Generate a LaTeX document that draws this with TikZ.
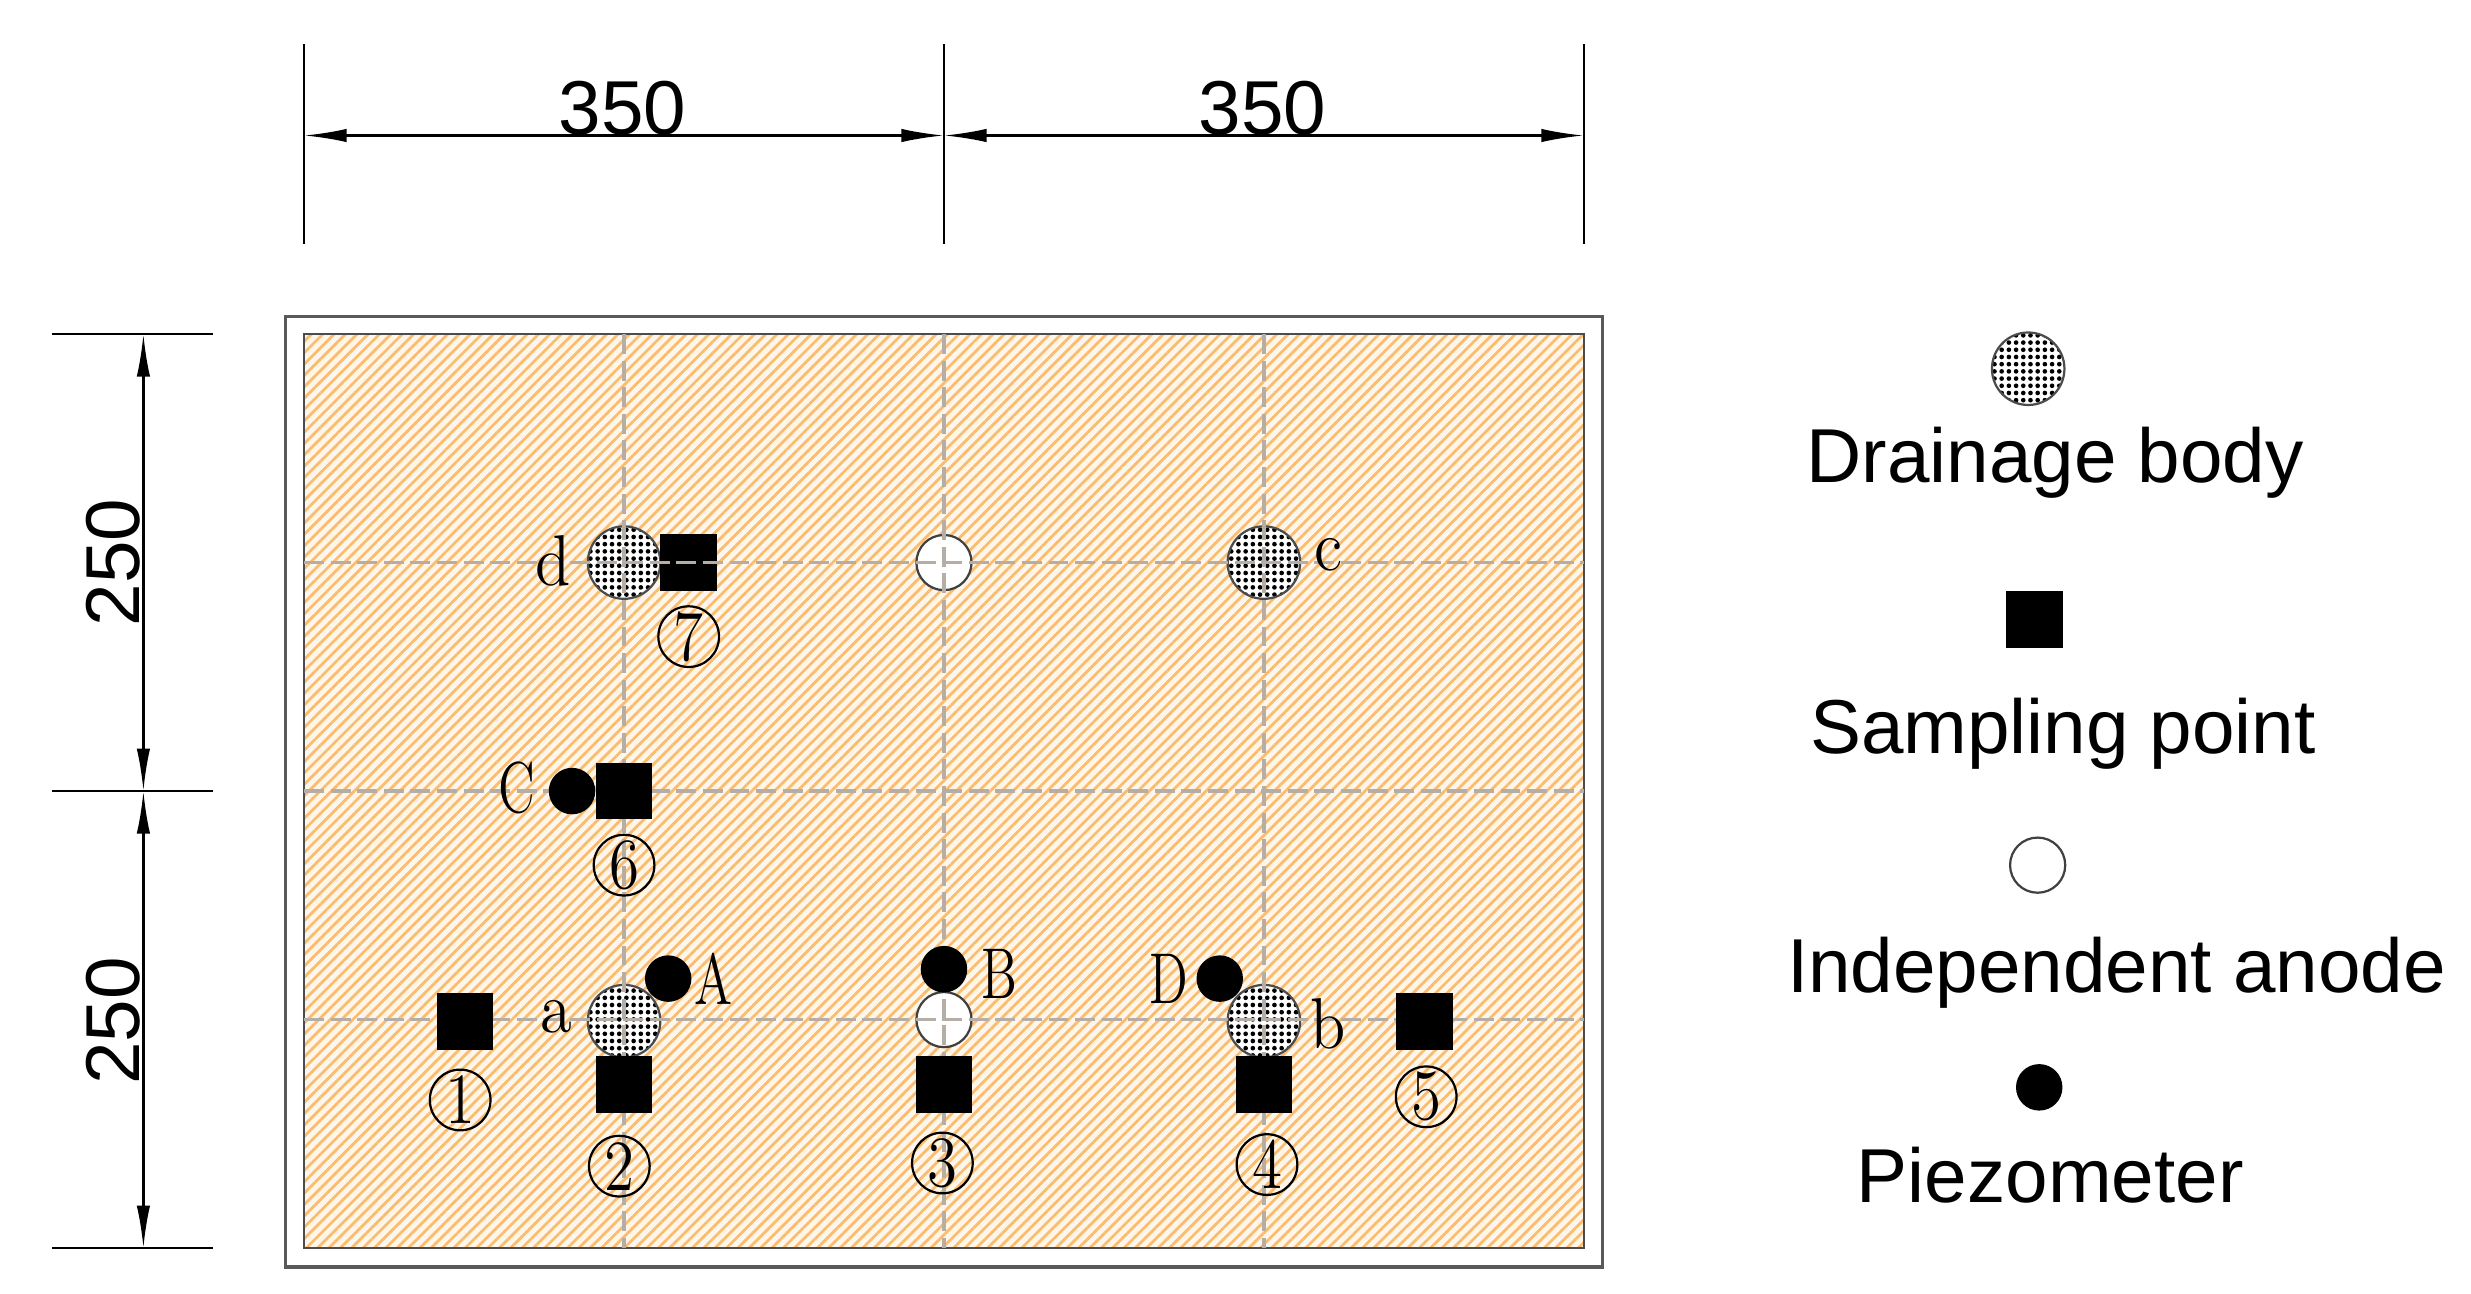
\documentclass[tikz,border=0pt]{standalone}
\usepackage{fontspec}
\setsansfont{Liberation Sans}
\usetikzlibrary{arrows.meta,patterns.meta,shapes.geometric}

\definecolor{soilbase}{HTML}{FFF6EA}
\definecolor{soilline}{HTML}{FBBC70}
\definecolor{gridgray}{HTML}{B4AEA6}
\newcommand{\nrw}[2][.72]{\scalebox{#1}[1]{#2}}

\begin{document}
\begin{tikzpicture}[
  dimline/.style={draw=black,line width=.45pt,{Latex[length=2.7mm,width=.85mm]}-{Latex[length=2.7mm,width=.85mm]}},
  extline/.style={draw=black,line width=.45pt},
  gridline/.style={draw=gridgray,line width=.6pt,dash pattern=on 3.6pt off 1.2pt},
  drain/.style={circle,draw=black!70,line width=.4pt,minimum size=4.6mm,inner sep=0pt,preaction={fill=white},pattern={Dots[distance=1.3pt,radius=.42pt]},pattern color=black},
  sample/.style={rectangle,fill=black,minimum size=3.6mm,inner sep=0pt},
  anode/.style={circle,draw=black!75,line width=.4pt,fill=white,minimum size=3.5mm,inner sep=0pt},
  piezo/.style={circle,fill=black,minimum size=2.95mm,inner sep=0pt},
  letter/.style={font=\fontsize{13}{14}\selectfont,inner sep=0pt},
  number/.style={circle,draw=black,line width=.4pt,minimum size=3.85mm,inner sep=0pt,font=\fontsize{13}{14}\selectfont},
  big/.style={font=\sffamily\fontsize{13.8}{16}\selectfont,inner sep=0pt}
]
\useasboundingbox (0,0) rectangle (15.68,8.205);

% frame and soil
\node (frame) [rectangle,draw=black!65,line width=.6pt,fill=white,minimum width=8.36cm,minimum height=6.03cm,inner sep=0pt] at (5.99,3.18) {};
\fill[soilbase] (1.93,.285) rectangle (10.05,6.085);
\path[pattern={Lines[angle=45,distance=1.45pt,line width=.5pt]},pattern color=soilline] (1.93,.285) rectangle (10.05,6.085);
\draw[black!70,line width=.45pt] (1.93,.285) rectangle (10.05,6.085);

% symbols under the grid
\node (da) [drain] at (3.96,1.725) {};
\node (db) [drain] at (8.02,1.725) {};
\node (dc) [drain] at (8.02,4.635) {};
\node (dd) [drain] at (3.96,4.635) {};
\node (an1) [anode] at (5.99,4.635) {};
\node (an2) [anode] at (5.99,1.735) {};
\node (s7) [sample] at (4.37,4.635) {};

% grid
\coordinate (gl1) at (1.93,4.635);
\coordinate (gr1) at (10.05,4.635);
\coordinate (gl2) at (1.93,3.185);
\coordinate (gr2) at (10.05,3.185);
\coordinate (gl3) at (1.93,1.735);
\coordinate (gr3) at (10.05,1.735);
\coordinate (gt1) at (3.96,6.085);
\coordinate (gb1) at (3.96,.285);
\coordinate (gt2) at (5.99,6.085);
\coordinate (gb2) at (5.99,.285);
\coordinate (gt3) at (8.02,6.085);
\coordinate (gb3) at (8.02,.285);
\path (gl1) edge[gridline] (gr1);
\path (gl2) edge[gridline] (gr2);
\path (gl3) edge[gridline] (gr3);
\path (gt1) edge[gridline] (gb1);
\path (gt2) edge[gridline] (gb2);
\path (gt3) edge[gridline] (gb3);

% symbols over the grid
\node (s1) [sample] at (2.95,1.725) {};
\node (s2) [sample] at (3.96,1.325) {};
\node (s3) [sample] at (5.99,1.325) {};
\node (s4) [sample] at (8.02,1.325) {};
\node (s5) [sample] at (9.04,1.725) {};
\node (s6) [sample] at (3.96,3.185) {};
\node (pa) [piezo] at (4.24,1.995) {};
\node (pb) [piezo] at (5.99,2.055) {};
\node (pc) [piezo] at (3.63,3.185) {};
\node (pd) [piezo] at (7.74,1.995) {};

% letters
\begin{scope}[every node/.style={letter}]
\node (la) at (3.53,1.755) {\nrw[.9]{a}};
\node (lb) at (8.43,1.705) {\nrw[.9]{b}};
\node (lc) at (8.43,4.685) {\nrw[.9]{c}};
\node (ld) at (3.51,4.645) {\nrw[.9]{d}};
\node (lA) at (4.53,1.995) {\nrw{A}};
\node (lB) at (6.34,2.025) {\nrw{B}};
\node (lC) at (3.28,3.205) {\nrw{C}};
\node (lD) at (7.42,1.995) {\nrw{D}};
\end{scope}

% numbers
\begin{scope}[every node/.style={number}]
\node (n1) at (2.92,1.225) {\nrw[.85]{1}};
\node (n2) at (3.93,.805) {\nrw[.85]{2}};
\node (n3) at (5.98,.825) {\nrw[.85]{3}};
\node (n4) at (8.04,.815) {\nrw[.85]{4}};
\node (n5) at (9.05,1.245) {\nrw[.85]{5}};
\node (n6) at (3.96,2.715) {\nrw[.85]{6}};
\node (n7) at (4.37,4.165) {\nrw[.85]{7}};
\end{scope}

% dimensions
\coordinate (t1u) at (1.93,7.925);
\coordinate (t1d) at (1.93,6.655);
\coordinate (t2u) at (5.99,7.925);
\coordinate (t2d) at (5.99,6.655);
\coordinate (t3u) at (10.05,7.925);
\coordinate (t3d) at (10.05,6.655);
\coordinate (t1m) at (1.93,7.345);
\coordinate (t2m) at (5.99,7.345);
\coordinate (t3m) at (10.05,7.345);
\coordinate (l1a) at (.33,6.085);
\coordinate (l1b) at (1.35,6.085);
\coordinate (l2a) at (.33,3.185);
\coordinate (l2b) at (1.35,3.185);
\coordinate (l3a) at (.33,.285);
\coordinate (l3b) at (1.35,.285);
\coordinate (l1m) at (.91,6.085);
\coordinate (l2m) at (.91,3.185);
\coordinate (l3m) at (.91,.285);
\path (t1u) edge[extline] (t1d);
\path (t2u) edge[extline] (t2d);
\path (t3u) edge[extline] (t3d);
\path (l1a) edge[extline] (l1b);
\path (l2a) edge[extline] (l2b);
\path (l3a) edge[extline] (l3b);
\path (t1m) edge[dimline] (t2m);
\path (t2m) edge[dimline] (t3m);
\path (l1m) edge[dimline] (l2m);
\path (l2m) edge[dimline] (l3m);
\node (w1) [big] at (3.95,7.52) {350};
\node (w2) [big] at (8.01,7.52) {350};
\node (h1) [big,rotate=90] at (.72,4.635) {250};
\node (h2) [big,rotate=90] at (.72,1.725) {250};

% legend
\node (kd) [drain] at (12.87,5.865) {};
\node (kdt) [big] at (13.04,5.27) {Drainage body};
\node (ks) [sample] at (12.91,4.275) {};
\node (kst) [big] at (13.09,3.55) {Sampling point};
\node (ka) [anode] at (12.93,2.715) {};
\node (kat) [big] at (13.43,2.03) {Independent anode};
\node (kp) [piezo] at (12.94,1.305) {};
\node (kpt) [big] at (13.01,.745) {Piezometer};
\end{tikzpicture}
\end{document}
